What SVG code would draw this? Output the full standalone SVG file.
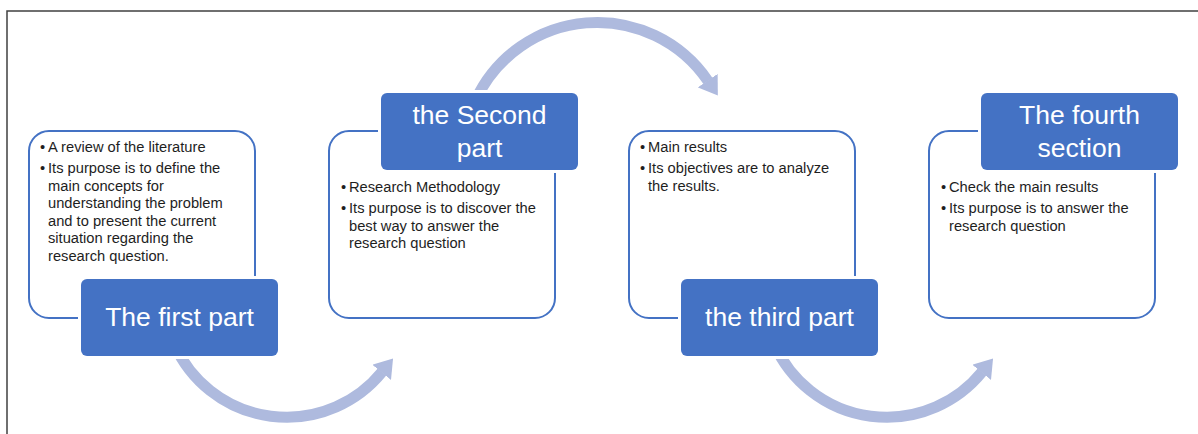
<svg xmlns="http://www.w3.org/2000/svg" width="1198" height="434" viewBox="0 0 1198 434">
<style>
.frame{fill:none;stroke:#404040;stroke-width:1.5}
.box{fill:#fff;stroke:#4472C4;stroke-width:2}
.lab{fill:#4472C4;stroke:#fff;stroke-width:6;paint-order:stroke}
.lt{font-family:"Liberation Sans",Arial,sans-serif;font-size:26.5px;fill:#fff;text-anchor:middle}
.bt{font-family:"Liberation Sans",Arial,sans-serif;font-size:14.7px;fill:#1e1e1e}
.arc{fill:none;stroke:#AEBADE;stroke-width:11;marker-end:url(#ah)}
</style>
<defs>
<marker id="ah" markerUnits="userSpaceOnUse" markerWidth="18" markerHeight="24" viewBox="0 0 18 24" refX="0.5" refY="12" orient="auto">
<path d="M0,0 L18,12 L0,24 Z" fill="#AEBADE"/>
</marker>
</defs>
<rect width="1198" height="434" fill="#fff"/>
<path class="frame" d="M7,434 V11 H1198"/>
<g id="connectors">
<path class="arc" d="M174.6,345 A123,123 0 0 0 382,372"/>
<path class="arc" d="M475.7,100 A134,134 0 0 1 708,81"/>
<path class="arc" d="M774.6,345 A123,123 0 0 0 982,372"/>
</g>
<g id="node1">
<rect class="box" x="29" y="131" width="226" height="187" rx="20"/>
<text class="bt"><tspan x="40" y="152">•</tspan><tspan x="48" y="152">A review of the literature</tspan><tspan x="40" y="173">•</tspan><tspan x="48" y="173">Its purpose is to define the</tspan><tspan x="48" y="190.5">main concepts for</tspan><tspan x="48" y="208">understanding the problem</tspan><tspan x="48" y="225.5">and to present the current</tspan><tspan x="48" y="243">situation regarding the</tspan><tspan x="48" y="260.5">research question.</tspan></text>
<rect class="lab" x="81" y="279" width="197" height="77" rx="6"/>
<text class="lt" x="179.5" y="326">The first part</text>
</g>
<g id="node2">
<rect class="box" x="329" y="131" width="226" height="187" rx="20"/>
<text class="bt"><tspan x="341" y="192">•</tspan><tspan x="349" y="192">Research Methodology</tspan><tspan x="341" y="213">•</tspan><tspan x="349" y="213">Its purpose is to discover the</tspan><tspan x="349" y="230.5">best way to answer the</tspan><tspan x="349" y="248">research question</tspan></text>
<rect class="lab" x="381" y="93" width="197" height="77" rx="6"/>
<text class="lt" x="479.5" y="124">the Second</text>
<text class="lt" x="479.5" y="157">part</text>
</g>
<g id="node3">
<rect class="box" x="629" y="131" width="226" height="187" rx="20"/>
<text class="bt"><tspan x="640" y="152">•</tspan><tspan x="648" y="152">Main results</tspan><tspan x="640" y="173">•</tspan><tspan x="648" y="173">Its objectives are to analyze</tspan><tspan x="648" y="190.5">the results.</tspan></text>
<rect class="lab" x="681" y="279" width="197" height="77" rx="6"/>
<text class="lt" x="779.5" y="326">the third part</text>
</g>
<g id="node4">
<rect class="box" x="929" y="131" width="226" height="187" rx="20"/>
<text class="bt"><tspan x="941" y="192">•</tspan><tspan x="949" y="192">Check the main results</tspan><tspan x="941" y="213">•</tspan><tspan x="949" y="213">Its purpose is to answer the</tspan><tspan x="949" y="230.5">research question</tspan></text>
<rect class="lab" x="981" y="93" width="197" height="77" rx="6"/>
<text class="lt" x="1079.5" y="124">The fourth</text>
<text class="lt" x="1079.5" y="157">section</text>
</g>
</svg>
